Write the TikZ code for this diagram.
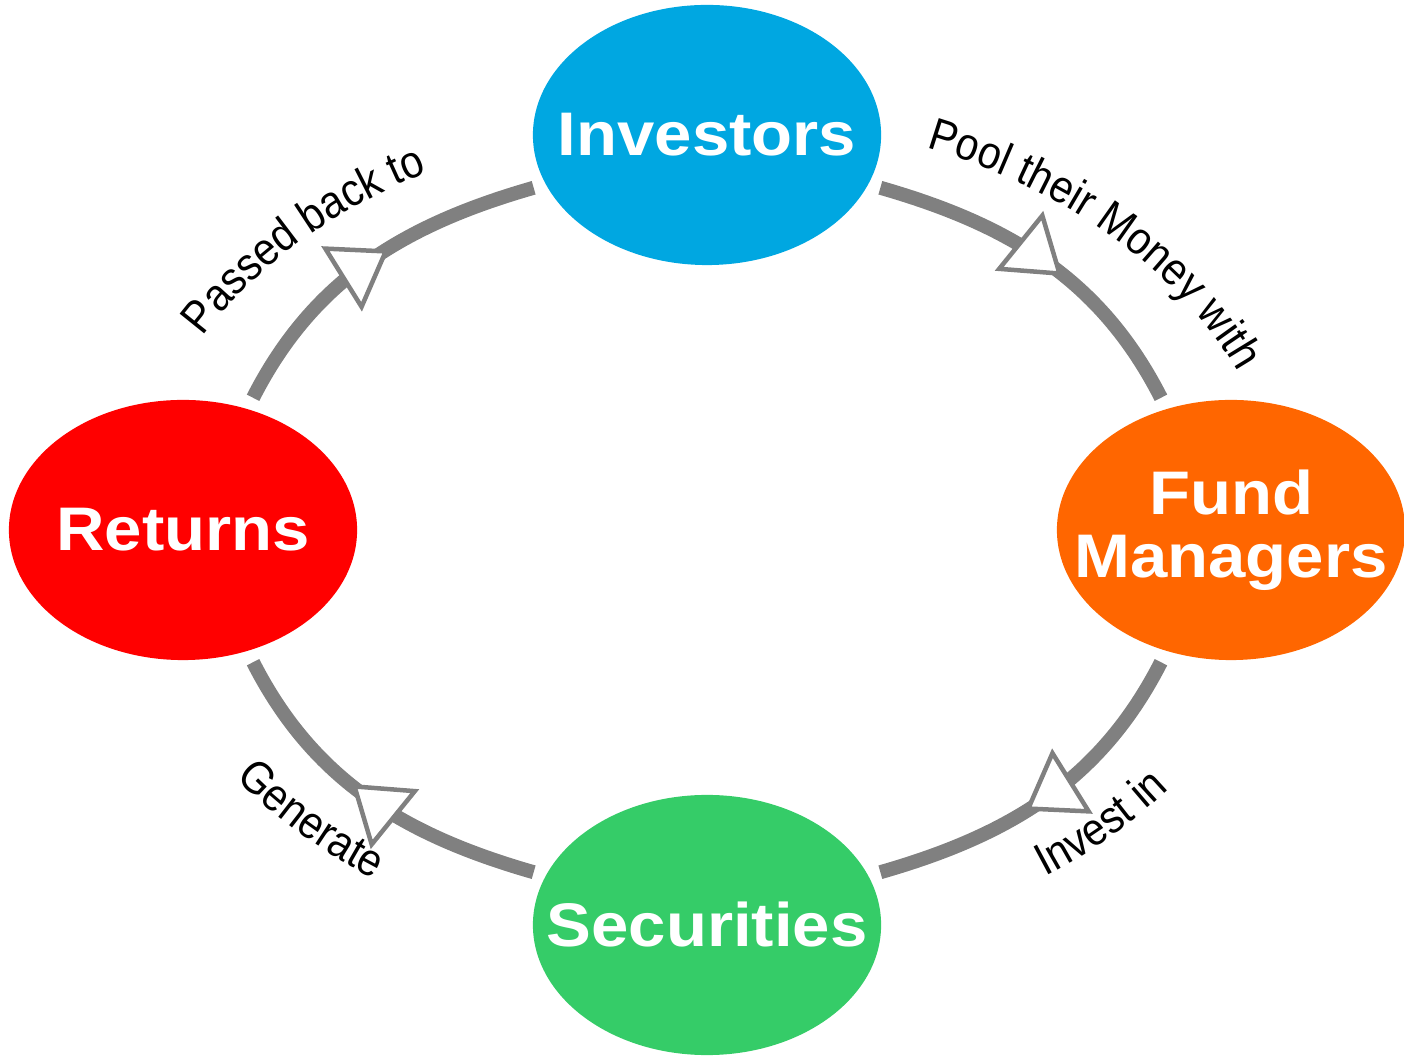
\documentclass[tikz,border=0pt]{standalone}
\usepackage{fontspec}
\setmainfont{Liberation Sans}
\newfontfamily\stagefont[FakeStretch=1.09]{Liberation Sans}
\newfontfamily\lblfamily[FakeStretch=0.9]{Liberation Sans}
\newcommand\lblfont{\lblfamily\fontsize{13}{15}\selectfont}
\usetikzlibrary{shapes.geometric,arrows.meta,decorations.markings,decorations.text}
\definecolor{invblue}{RGB}{0,167,225}
\definecolor{fundorange}{RGB}{255,102,0}
\definecolor{retred}{RGB}{255,0,0}
\definecolor{secgreen}{RGB}{53,204,104}
\definecolor{flowgrey}{RGB}{128,128,128}
\begin{document}
\begin{tikzpicture}[x=0.01cm,y=0.01cm,
  stage/.style={ellipse,minimum width=3.48cm,minimum height=2.6cm,inner sep=0pt,text=white,align=center,
    font=\stagefont\bfseries\fontsize{17.5}{17.9}\selectfont},
  flow/.style={draw,color=flowgrey,line width=0.14cm,shorten <=0.12cm,shorten >=0.12cm,postaction={decorate},
    decoration={markings,mark=at position 0.56 with {\arrow{Triangle[length=0.56cm,width=0.76cm,fill=white,line width=0.045cm]}}}}]
\useasboundingbox (0,0) rectangle (1404,1055);

\node[stage,fill=invblue] (inv) at (707,920) {\makebox[0pt]{Investors}};
\node[stage,fill=fundorange] (fund) at (1231,525) {\makebox[0pt]{Fund}\\\makebox[0pt]{Managers}};
\node[stage,fill=secgreen] (sec) at (707,130) {\makebox[0pt]{Securities}};
\node[stage,fill=retred] (ret) at (183,525) {\makebox[0pt]{Returns}};
\coordinate (c) at (707,525);

\path[flow] (inv.-17) to[out=-16,in=117] (fund.118);
\path[flow] (fund.-118) to[out=-117,in=16] (sec.17);
\path[flow] (sec.163) to[out=164,in=-63] (ret.-62);
\path[flow] (ret.62) to[out=63,in=-164] (inv.197);

\path[decorate,decoration={text along path,text align=center,text={|\lblfont|Pool their Money with}}]
  (c) ++(74:574 and 414) arc[start angle=74,end angle=14,x radius=574,y radius=414];
\path[decorate,decoration={text along path,text align=center,text={|\lblfont|Passed back to}}]
  (c) ++(166:572 and 410) arc[start angle=166,end angle=108,x radius=572,y radius=410];
\path[decorate,decoration={text along path,text align=center,text={|\lblfont|Invest in}}]
  (c) ++(-61:582 and 426) arc[start angle=-61,end angle=-30,x radius=582,y radius=426];
\path[decorate,decoration={text along path,text align=center,text={|\lblfont|Generate}}]
  (c) ++(210:580 and 426) arc[start angle=210,end angle=240,x radius=580,y radius=426];
\end{tikzpicture}
\end{document}
